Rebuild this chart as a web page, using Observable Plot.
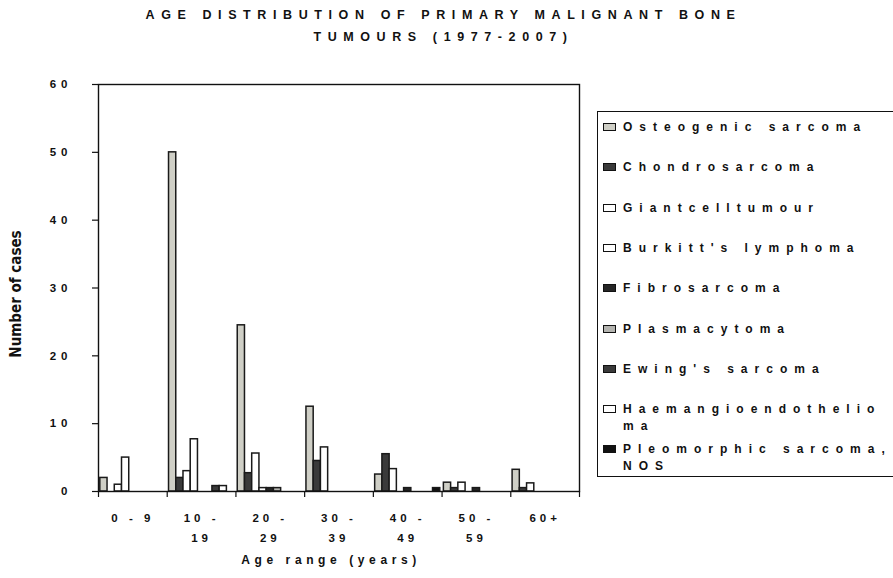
<!DOCTYPE html>
<html>
<head>
<meta charset="utf-8">
<script src="https://cdn.jsdelivr.net/npm/d3@7"></script>
<script src="https://cdn.jsdelivr.net/npm/@observablehq/plot@0.6"></script>
<style>
  html, body { margin: 0; padding: 0; background: #fff; }
  #wrap { position: relative; width: 893px; height: 578px; overflow: hidden; background: #fff; font-family: "Liberation Sans", Arial, sans-serif; color: #111; }
  #chart { position: absolute; left: 0; top: 0; }
  #title { position: absolute; left: 0; width: 887px; top: 4px; text-align: center; font-weight: bold; font-size: 12.5px; letter-spacing: 6.6px; line-height: 22px; }
  #legend { position: absolute; left: 597px; top: 111px; width: 310px; height: 366px; border: 1.3px solid #111; box-sizing: border-box; }
  .item { position: absolute; left: 5px; font-weight: bold; font-size: 12px; letter-spacing: 7px; line-height: 17px; white-space: pre; }
  .sw { position: absolute; left: 0; top: 4px; width: 13px; height: 8px; border: 1.3px solid #111; box-sizing: border-box; }
  .lt { position: absolute; left: 20px; top: 0; }
  #chart g[aria-label="y-axis tick label"] text { letter-spacing: 5px; }
</style>
</head>
<body>
<div id="wrap">
  <div id="title"></div>
  <div id="chart"></div>
  <div id="legend"></div>
</div>
<script>
// ---- data ----
const titleLines = ["AGE DISTRIBUTION OF PRIMARY MALIGNANT BONE", "TUMOURS (1977-2007)"];
const ageGroups = ["0-9", "10-19", "20-29", "30-39", "40-49", "50-59", "60+"];
const groupTickLabels = ["0 - 9", "10 -\n19", "20 -\n29", "30 -\n39", "40 -\n49", "50 -\n59", "60+"];
const yTicks = [0, 10, 20, 30, 40, 50, 60];
const yTitle = "Number of cases";
const xTitle = "Age range (years)";

const seriesNames = [
  "Osteogenic sarcoma", "Chondrosarcoma", "Giant cell tumour", "Burkitt's lymphoma",
  "Fibrosarcoma", "Plasmacytoma", "Ewing's sarcoma", "Haemangioendothelioma",
  "Pleomorphic sarcoma, NOS"
];
const legendLabels = [
  "Osteogenic sarcoma", "Chondrosarcoma", "Giantcelltumour", "Burkitt's lymphoma",
  "Fibrosarcoma", "Plasmacytoma", "Ewing's sarcoma", "Haemangioendothelio\nma",
  "Pleomorphic sarcoma,\nNOS"
];
const osteogenic   = [2, 50, 24.5, 12.5, 2.5, 1.3, 3.2];
const chondro      = [0, 2, 2.7, 4.5, 5.5, 0.5, 0.5];
const giantCell    = [1, 3, 5.6, 6.5, 3.3, 1.3, 1.2];
const burkitt      = [5, 7.7, 0.5, 0, 0, 0, 0];
const fibro        = [0, 0, 0.5, 0, 0.5, 0.5, 0];
const plasma       = [0, 0, 0.5, 0, 0, 0, 0];
const ewing        = [0, 0.8, 0, 0, 0, 0, 0];
const haemangio    = [0, 0.8, 0, 0, 0, 0, 0];
const pleomorphic  = [0, 0, 0, 0, 0.5, 0, 0];
const seriesValues = [osteogenic, chondro, giantCell, burkitt, fibro, plasma, ewing, haemangio, pleomorphic];
const seriesFills = ["#cfcfc6", "#3a3a3a", "#ffffff", "#ffffff", "#262626", "#b4b4b0", "#3a3a3a", "#ffffff", "#111111"];

// ---- build ----
document.getElementById("title").innerHTML = titleLines.join("<br>");

const nSeries = seriesNames.length;
const gapWidth = 0.5; // clustered-bar gap, as fraction of a bar
const table = seriesNames.flatMap((name, k) =>
  seriesValues[k].map((value, i) => ({name, k, i, group: ageGroups[i], value}))
).filter(d => d.value > 0);

const font = "Liberation Sans, Arial, sans-serif";

const chart = Plot.plot({
  width: 893,
  height: 578,
  marginLeft: 98,
  marginRight: 314,
  marginTop: 84,
  marginBottom: 87,
  style: {fontFamily: font, fontSize: "12px", fontWeight: "bold", color: "#111", background: "transparent"},
  x: {domain: [0, ageGroups.length], axis: null},
  y: {domain: [0, 60], axis: null},
  color: {domain: seriesNames, range: seriesFills},
  marks: [
    Plot.rect(table, {
      x1: d => d.i + (gapWidth / 2 + d.k) / (nSeries + gapWidth),
      x2: d => d.i + (gapWidth / 2 + d.k + 1) / (nSeries + gapWidth),
      y1: 0,
      y2: "value",
      fill: "name",
      stroke: "#1a1a1a",
      strokeWidth: 1.5
    }),
    Plot.frame({stroke: "#111", strokeWidth: 1.4}),
    Plot.axisY(yTicks, {tickSize: 6, tickPadding: 20, tickFormat: d => String(d), label: null, fontWeight: "bold", fontSize: 11.5, stroke: "#111", strokeWidth: 1.2}),
    Plot.axisX(d3.range(ageGroups.length + 1), {tickSize: 6, tickFormat: () => "", label: null, stroke: "#111", strokeWidth: 1.2}),
    Plot.text(groupTickLabels, {
      x: (d, i) => i + 0.5,
      frameAnchor: "bottom",
      dy: 17,
      lineAnchor: "top",
      lineHeight: 1.7,
      text: d => d,
      fontSize: 11.5,
      fontWeight: "bold",
      fill: "#111"
    }),
    Plot.text([xTitle], {
      frameAnchor: "bottom",
      textAnchor: "middle",
      dx: -8,
      dy: 64,
      lineAnchor: "top",
      text: d => d,
      fontSize: 12,
      fontWeight: "bold",
      fill: "#111"
    }),
    Plot.text([yTitle], {
      frameAnchor: "left",
      textAnchor: "middle",
      dx: -82,
      dy: 6,
      rotate: -90,
      text: d => d,
      fontFamily: "Liberation Sans Narrow, DejaVu Sans Condensed, Arial Narrow, sans-serif",
      fontSize: 15,
      fontWeight: "bold",
      fill: "#111"
    })
  ]
});
document.getElementById("chart").appendChild(chart);

// letter spacing for the text marks (group labels, x title) as in the original
const textMarks = d3.select(chart).selectAll('g[aria-label="text"]').nodes();
if (textMarks[0]) d3.select(textMarks[0]).style("letter-spacing", "4px");
if (textMarks[1]) d3.select(textMarks[1]).style("letter-spacing", "4.6px");

// ---- legend ----
const legend = d3.select("#legend");
legendLabels.forEach((label, k) => {
  const item = legend.append("div").attr("class", "item").style("top", (7 + k * 40.3) + "px");
  item.append("div").attr("class", "sw").style("background", seriesFills[k]);
  item.append("div").attr("class", "lt").text(label);
});
</script>
</body>
</html>
